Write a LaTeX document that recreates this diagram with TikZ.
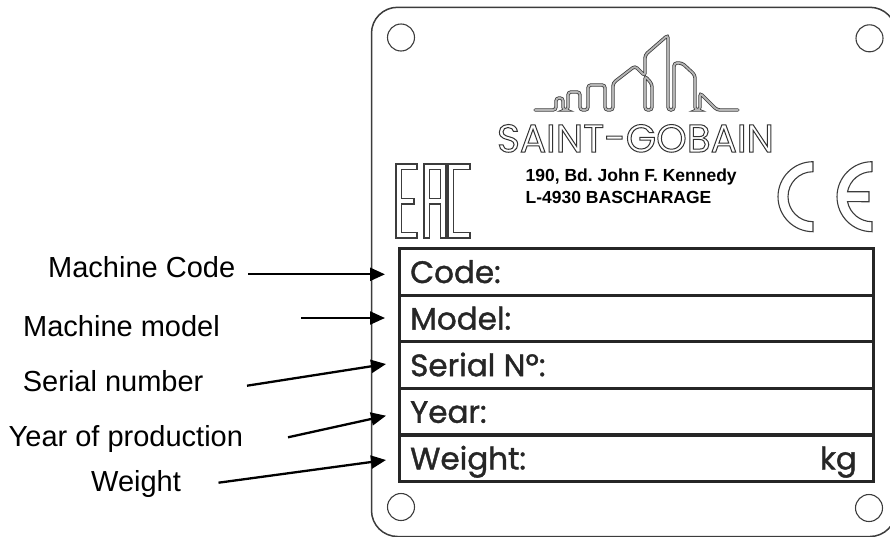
\documentclass[tikz,border=0pt]{standalone}
\usepackage{fontspec}
\setmainfont{Liberation Sans}
\newfontfamily\platefont{Poppins}
\newfontfamily\fieldfont{Poppins}[FakeBold=1.2]
\usetikzlibrary{arrows.meta}

\definecolor{plategray}{HTML}{3C3C3C}
\definecolor{tubegray}{HTML}{B4B4B4}

% hollow letters for the brand name
\newcommand{\outlinetext}[1]{\special{pdf:literal direct 2 Tr 1 w 0.2 G 1 g}#1\special{pdf:literal direct 0 Tr 0 g 0 G}}

\tikzset{
    plate/.style={draw=plategray, line width=1.5pt, rounded corners=26pt},
    hole/.style={draw=plategray, line width=1.1pt},
    rowbox/.style={draw=black!85, line width=3.2pt, minimum width=474pt, minimum height=46.6pt, inner sep=0pt},
    fieldtxt/.style={inner sep=0pt, font=\fieldfont\fontsize{31}{31}\selectfont, text=black!85},
    addr/.style={inner sep=0pt, font=\bfseries\fontsize{17.5}{17.5}\selectfont, text=black},
    lbl/.style={inner sep=0pt, font=\fontsize{29}{29}\selectfont},
    pointer/.style={-{Triangle[length=15pt,width=13pt]}, line width=2.3pt},
    tube/.style={draw=plategray, double=tubegray, double distance=1.8pt, line width=0.8pt, rounded corners=3pt, line cap=round},
    glyph/.style={draw=plategray, line width=1.1pt},
}

\begin{document}
\frenchspacing
\begin{tikzpicture}[x=1pt, y=-1pt]
    \useasboundingbox (0,0) rectangle (890,536);

    % Draw the plate and its four holes
    \draw[plate] (371.5,7.3) rectangle (896,536.5);
    \foreach \hx/\hy in {401/37.5, 869.5/38.3, 401/507, 869/508} {
        \draw[hole] (\hx,\hy) circle (13.5pt);
    }

    % --- Logo: skyline and name ---
    \draw[tube] (535,110) -- (556,110) -- (556,98) -- (563,98) -- (563,110) -- (568,110) -- (568,92) -- (580,92) -- (580,110)
        -- (588,110) -- (588,85) -- (605,85) -- (605,110) -- (613,110) -- (613,83) -- (635,66) -- (645,76) -- (645,55)
        -- (668,35) -- (668,110) -- (674,110) -- (674,63) -- (682,63) -- (695,75) -- (695,110) -- (700,110) -- (700,93)
        -- (717,110) -- (738,110);
    \draw[tube] (645,76) -- (652,84) -- (652,110) -- (645,110) -- cycle;
    \node[inner sep=0pt, font=\platefont\fontsize{39}{39}\selectfont, anchor=base] (brand) at (635.5,152) {\outlinetext{SAINT-GOBAIN}};

    % Address
    \node[addr, anchor=base west] (addrstreet) at (525.5,181) {190, Bd. John F. Kennedy};
    \node[addr, anchor=base west] (addrtown) at (525.5,203) {L-4930 BASCHARAGE};

    % --- EAC mark ---
    \draw[glyph] (396,164) -- (417,164) -- (417,169.5) -- (401.5,169.5) -- (401.5,198.5) -- (414,198.5) -- (414,204) -- (401.5,204)
        -- (401.5,232.5) -- (417,232.5) -- (417,238) -- (396,238) -- cycle;
    \draw[glyph] (424,238) -- (424,164) -- (446,164) -- (446,238) -- (440.5,238) -- (440.5,204) -- (429.5,204) -- (429.5,238) -- cycle
        (429.5,169.5) -- (440.5,169.5) -- (440.5,198.5) -- (429.5,198.5) -- cycle;
    \draw[glyph] (448,164) -- (470,164) -- (470,169.5) -- (453.5,169.5) -- (453.5,232.5) -- (470,232.5) -- (470,238) -- (448,238) -- cycle;

    % --- CE mark ---
    \draw[glyph] (813,161.7) arc[start angle=270, end angle=90, radius=35] -- (813,221.7)
        arc[start angle=90, end angle=270, radius=25] -- cycle;
    \draw[glyph] (872,161.7) arc[start angle=270, end angle=90, radius=35] -- (872,221.7)
        arc[start angle=90, end angle=168.5, radius=25] -- (869,201.7) -- (869,191.7) -- (847.5,191.7)
        arc[start angle=191.5, end angle=270, radius=25] -- cycle;

    % --- Data fields ---
    \foreach \name/\field [count=\i from 0] in {code/Code:, model/Model:, serial/Serial Nº:, year/Year:, weight/Weight:} {
        \node[rowbox, anchor=north west] (row\name) at (398, {247+46.6*\i}) {};
        \node[fieldtxt, anchor=base west] (field\name) at (410, {283+46.6*\i}) {\field};
    }
    \node[fieldtxt, anchor=base east] (unitkg) at (857, 469.4) {kg};

    % --- Labels and arrows ---
    \foreach \name/\lx/\ly/\txt in {code/48/277/Machine Code, model/23/336/Machine model, serial/22.7/391.7/Serial number,
        year/8.5/446.7/Year of production, weight/91/491.7/Weight} {
        \node[lbl, anchor=base west] (lbl\name) at (\lx,\ly) {\txt};
    }
    \foreach \name/\tx/\ty/\hx/\hy in {code/248/274.3/385/274.3, model/301/318/385/318, serial/247/385.7/386/364,
        year/288/437.3/386/415.7, weight/218.5/482.7/386/460} {
        \coordinate (tail\name) at (\tx,\ty);
        \coordinate (tip\name) at (\hx,\hy);
        \draw[pointer] (tail\name) -- (tip\name);
    }
\end{tikzpicture}
\end{document}
